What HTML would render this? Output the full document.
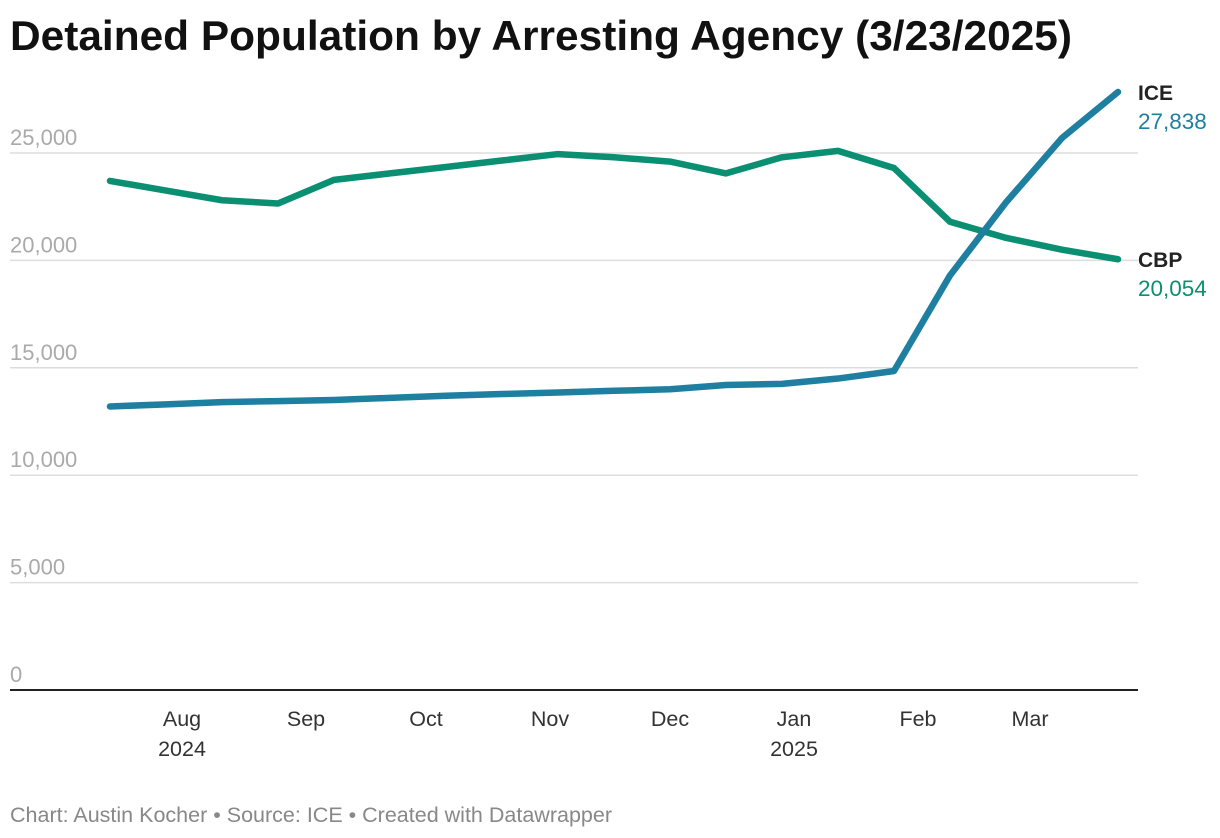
<!DOCTYPE html>
<html><head><meta charset="utf-8">
<style>
body{margin:0;background:#fff;font-family:"Liberation Sans",sans-serif;}
svg{display:block}
</style></head>
<body>
<svg id="chart" width="1220" height="838">
<text x="10" y="50" font-size="42" font-weight="bold" fill="#111" textLength="1062" lengthAdjust="spacingAndGlyphs">Detained Population by Arresting Agency (3/23/2025)</text>
<g id="grid"></g>
<g id="xaxis"></g>
<g id="lines"></g>
<text x="10" y="822" font-size="21" fill="#888" textLength="602" lengthAdjust="spacingAndGlyphs">Chart: Austin Kocher • Source: ICE • Created with Datawrapper</text>
</svg>
<script>
const dates=["2024-07-14","2024-07-28","2024-08-11","2024-08-25","2024-09-08","2024-09-22","2024-10-06","2024-10-20","2024-11-03","2024-11-17","2024-12-01","2024-12-15","2024-12-29","2025-01-12","2025-01-26","2025-02-09","2025-02-23","2025-03-09","2025-03-23"];
const cbp=[23700,23250,22800,22650,23750,24050,24350,24650,24950,24800,24600,24050,24800,25100,24300,21800,21050,20500,20054];
const ice=[13200,13300,13400,13450,13500,13600,13700,13780,13850,13930,14000,14200,14250,14500,14850,19300,22700,25700,27838];
const yTicks=[0,5000,10000,15000,20000,25000];
const xTickDates=["2024-08-01","2024-09-01","2024-10-01","2024-11-01","2024-12-01","2025-01-01","2025-02-01","2025-03-01"];
const xTickLabels=["Aug","Sep","Oct","Nov","Dec","Jan","Feb","Mar"];
const xTickYears=["2024","","","","","2025","",""];

const NS="http://www.w3.org/2000/svg";
const t0=Date.parse("2024-08-01"),t1=Date.parse("2025-03-01");
const x=d=>182+(Date.parse(d)-t0)/(t1-t0)*(1030-182);
const y=v=>690-v/25000*(690-153);
function mk(tag,attrs,parent){const e=document.createElementNS(NS,tag);for(const k in attrs)e.setAttribute(k,attrs[k]);parent.appendChild(e);return e;}
const grid=document.getElementById('grid');
yTicks.forEach(v=>{
  if(v>0){const l=mk('line',{x1:10,x2:1138,y1:y(v),y2:y(v),stroke:'#ddd','stroke-width':1.5},grid);
  
  }
  const t=mk('text',{x:10,y:y(v)-8,'font-size':22,fill:'#aaa'},grid);
  t.textContent=v.toLocaleString('en-US');
  
  
});
const base=mk('line',{x1:10,x2:1138,y1:690,y2:690,stroke:'#222','stroke-width':2},grid);


const xa=document.getElementById('xaxis');
xTickDates.forEach((d,i)=>{
  const t=mk('text',{x:x(d),y:726,'font-size':21.5,fill:'#333','text-anchor':'middle'},xa);
  t.textContent=xTickLabels[i];
  
  
  if(xTickYears[i]){const yr=mk('text',{x:x(d),y:756,'font-size':21.5,fill:'#333','text-anchor':'middle'},xa);
  yr.textContent=xTickYears[i];
  
  }
});
const lines=document.getElementById('lines');
function series(vals,color,name,label){
  const p=mk('polyline',{points:vals.map((v,i)=>x(dates[i])+','+y(v)).join(' '),fill:'none',stroke:color,'stroke-width':6.5,'stroke-linejoin':'round','stroke-linecap':'round'},lines);
  
  
  const ly=y(vals[vals.length-1]);
  const a=mk('text',{x:1138,y:ly+8,'font-size':21,'font-weight':'bold',fill:'#222'},lines);
  a.textContent=label;
  
  
  const b=mk('text',{x:1138,y:ly+37,'font-size':22.5,fill:color},lines);
  b.textContent=vals[vals.length-1].toLocaleString('en-US');
  
  
}
series(cbp,'#0a8f72','cbp','CBP');
series(ice,'#1f7fa0','ice','ICE');
</script>
</body></html>
